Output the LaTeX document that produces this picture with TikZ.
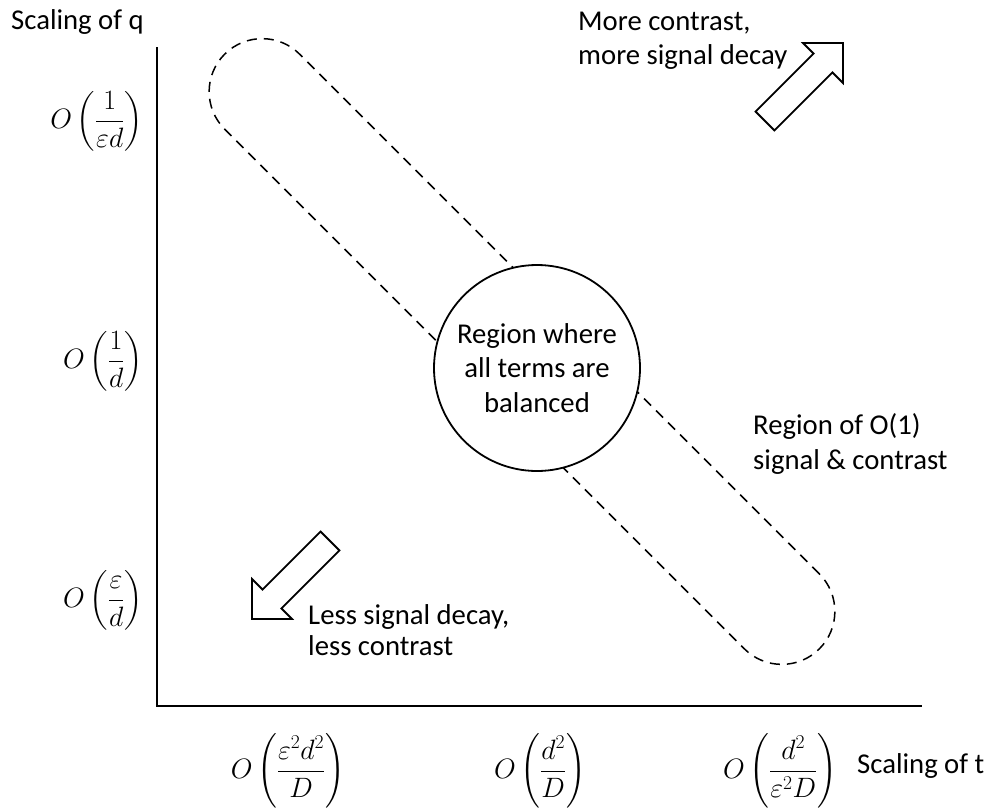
\RequirePackage{fix-cm}
\documentclass[tikz,border=0pt]{standalone}
\usepackage{amsmath}
\usepackage{fontspec}
\setmainfont{Carlito}
\usepackage{tikz}

\newcommand{\hollowarrow}[2]{%
    \draw[line width=1.8pt, line join=miter, fill=white, shift={#1}, rotate=#2]
        (0,0) -- (-28.3,28.3) -- (-28.3,13.3) -- (-110.3,13.3) -- (-110.3,-13.3)
        -- (-28.3,-13.3) -- (-28.3,-28.3) -- cycle;}

\begin{document}
\begin{tikzpicture}[
    x=1pt, y=-1pt,
    font=\fontsize{28.7}{34.5}\selectfont,
    axis/.style={line width=1.4pt},
    band/.style={draw, dash pattern=on 10pt off 7pt, line width=1.5pt, rounded corners=53pt, minimum width=841pt, minimum height=106pt, inner sep=0pt, rotate=-45},
    core/.style={circle, draw, fill=white, line width=1.8pt, minimum size=206pt, inner sep=0pt, align=center},
    note/.style={align=left, inner sep=0pt, anchor=west},
    order/.style={inner sep=0pt, font=\fontsize{28}{34}\selectfont}
]
    \useasboundingbox (0,0) rectangle (987,809);

    \coordinate (qtop) at (157,47);
    \coordinate (origin) at (157,706);
    \coordinate (tend) at (922,706);
    \draw[axis] (qtop) -- (origin) -- (tend);

    \node[inner sep=0pt, anchor=base west] (qname) at (11,29) {Scaling of q};
    \node[order, anchor=east] (qhigh) at (143,121) {$O\left(\dfrac{1}{\varepsilon d}\right)$};
    \node[order, anchor=east] (qmid) at (143,361) {$O\left(\dfrac{1}{d}\right)$};
    \node[order, anchor=east] (qlow) at (143,600) {$O\,\Bigl(\dfrac{\varepsilon}{d}\Bigr)$};

    \node[order] (tlow) at (288,771) {$O\left(\dfrac{\varepsilon^2d^2}{D}\right)$};
    \node[order] (tmid) at (540,771) {$O\left(\dfrac{d^2}{D}\right)$};
    \node[order] (thigh) at (780,771) {$O\left(\dfrac{d^2}{\varepsilon^2D}\right)$};
    \node[inner sep=0pt, anchor=west] (tname) at (857,766) {Scaling of t};

    \node[band] (band) at (522,351.5) {};
    \node[core] (balanced) at (537,368) {Region where\\all terms are\\balanced};

    \node[note] (bandnote) at (753,444) {Region of O(1)\\signal \& contrast};
    \node[note] (upnote) at (578,41) {More contrast,\\more signal decay};
    \node[note, font=\fontsize{28.7}{31}\selectfont] (downnote) at (308,630) {Less signal decay,\\less contrast};

    \hollowarrow{(843,43)}{45}
    \hollowarrow{(252,619)}{225}
\end{tikzpicture}
\end{document}
